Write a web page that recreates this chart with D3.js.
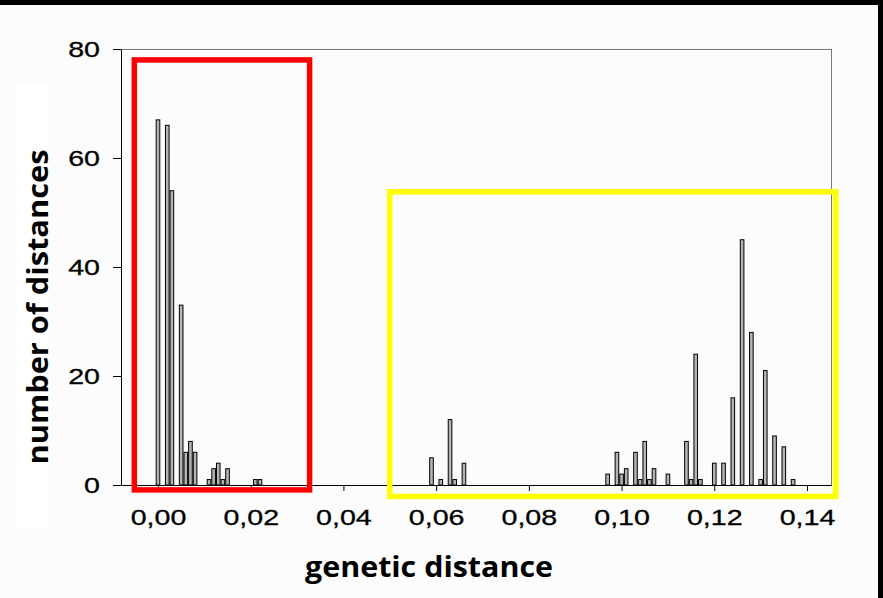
<!DOCTYPE html>
<html lang="en">
<head>
    <meta charset="UTF-8">
    <title>Genetic distance histogram</title>
    <script src="https://d3js.org/d3.v7.min.js"></script>
    <style>
        body { margin: 0; background: #fcfcfc; }
        svg { display: block; }
    </style>
</head>
<body>
    <svg width="883" height="598"></svg>
    <script>

// Histogram bins (bin width 0.001)
const distance = [0.000, 0.002, 0.003, 0.005, 0.006, 0.007, 0.008, 0.011, 0.012, 0.013, 0.014, 0.015,
    0.021, 0.022, 0.059, 0.061, 0.063, 0.064, 0.066, 0.097, 0.099, 0.100, 0.101, 0.103, 0.104,
    0.105, 0.106, 0.107, 0.110, 0.114, 0.115, 0.116, 0.117, 0.120, 0.122, 0.124, 0.126, 0.128,
    0.130, 0.131, 0.133, 0.135, 0.137];
const count = [67, 66, 54, 33, 6, 8, 6, 1, 3, 4, 1, 3,
    1, 1, 5, 1, 12, 1, 4, 2, 6, 2, 3, 6, 1,
    8, 1, 3, 2, 8, 1, 24, 1, 4, 4, 16, 45, 28,
    1, 21, 9, 7, 1];

const xTicks = [0, 0.02, 0.04, 0.06, 0.08, 0.10, 0.12, 0.14];
const yTicks = [0, 20, 40, 60, 80];

// highlight boxes, in data units
const boxNames = ["red", "yellow"];
const boxX = [[-0.0051, 0.0327], [0.0500, 0.1462]];
const boxY = [[78, -0.9], [53.8, -2.1]];

const svg = d3.select("svg");

// black edge along top and right like the original slide crop
svg.append("rect").attr("x", 0).attr("y", 0).attr("width", 883).attr("height", 5).attr("fill", "#000");
svg.append("rect").attr("x", 878).attr("y", 0).attr("width", 5).attr("height", 598).attr("fill", "#000");

// white patch behind the y title
svg.append("rect").attr("x", 16).attr("y", 84).attr("width", 32).attr("height", 445).attr("fill", "#fff");

const x = d3.scaleLinear().domain([-0.00798, 0.14518]).range([121, 831]);
const y = d3.scaleLinear().domain([0, 80]).range([485, 49]);

// plot frame (grey top/right)
svg.append("rect")
    .attr("x", x.range()[0] + 0.5)
    .attr("y", y(80) + 0.5)
    .attr("width", x.range()[1] - x.range()[0])
    .attr("height", y(0) - y(80))
    .attr("fill", "none")
    .attr("stroke", "#777")
    .attr("stroke-width", 1);

// bars
const barW = x(0.00078) - x(0);
svg.append("g").selectAll("rect")
    .data(distance)
    .join("rect")
    .attr("x", (d) => x(d) - barW / 2)
    .attr("y", (d, i) => y(count[i]))
    .attr("width", barW)
    .attr("height", (d, i) => y(0) - y(count[i]))
    .attr("fill", "#b4b4b4")
    .attr("stroke", "#000")
    .attr("stroke-width", 1);

const fmt = (d) => d3.format(".2f")(d).replace(".", ",");

const xAxis = svg.append("g")
    .attr("transform", `translate(0,${y(0)})`)
    .call(d3.axisBottom(x).tickValues(xTicks).tickFormat(fmt).tickSize(6).tickSizeOuter(0));

const yAxis = svg.append("g")
    .attr("transform", `translate(${x.range()[0]},0)`)
    .call(d3.axisLeft(y).tickValues(yTicks).tickSize(8).tickSizeOuter(0));

svg.selectAll(".domain, .tick line").attr("stroke", "#000");

xAxis.selectAll("text")
    .attr("y", 24)
    .attr("transform", "scale(1.3,1)")
    .style("font-family", "'Liberation Sans', Arial, sans-serif")
    .style("font-size", "22px")
    .attr("fill", "#000")
    .attr("stroke", "#000")
    .attr("stroke-width", 0.3);

yAxis.selectAll("text")
    .attr("x", -16.2)
    .attr("transform", "scale(1.3,1)")
    .style("font-family", "'Liberation Sans', Arial, sans-serif")
    .style("font-size", "22px")
    .attr("fill", "#000")
    .attr("stroke", "#000")
    .attr("stroke-width", 0.3);

// highlight boxes
const boxColor = { red: "#ff0000", yellow: "#ffff00" };
svg.append("g").selectAll("rect")
    .data(boxNames)
    .join("rect")
    .attr("x", (d, i) => x(boxX[i][0]))
    .attr("y", (d, i) => y(boxY[i][0]))
    .attr("width", (d, i) => x(boxX[i][1]) - x(boxX[i][0]))
    .attr("height", (d, i) => y(boxY[i][1]) - y(boxY[i][0]))
    .attr("fill", "none")
    .attr("stroke", (d) => boxColor[d])
    .attr("stroke-width", 5.5);

// axis titles
svg.append("text")
    .attr("x", 429)
    .attr("y", 577)
    .attr("text-anchor", "middle")
    .attr("textLength", 248)
    .attr("lengthAdjust", "spacingAndGlyphs")
    .style("font-family", "'Open Sans', sans-serif")
    .style("font-weight", "bold")
    .style("font-size", "28px")
    .text("genetic distance");

svg.append("text")
    .attr("transform", "translate(48,307) rotate(-90)")
    .attr("text-anchor", "middle")
    .attr("textLength", 315)
    .attr("lengthAdjust", "spacingAndGlyphs")
    .style("font-family", "'Open Sans', sans-serif")
    .style("font-weight", "bold")
    .style("font-size", "28px")
    .text("number of distances");

    </script>
</body>
</html>
